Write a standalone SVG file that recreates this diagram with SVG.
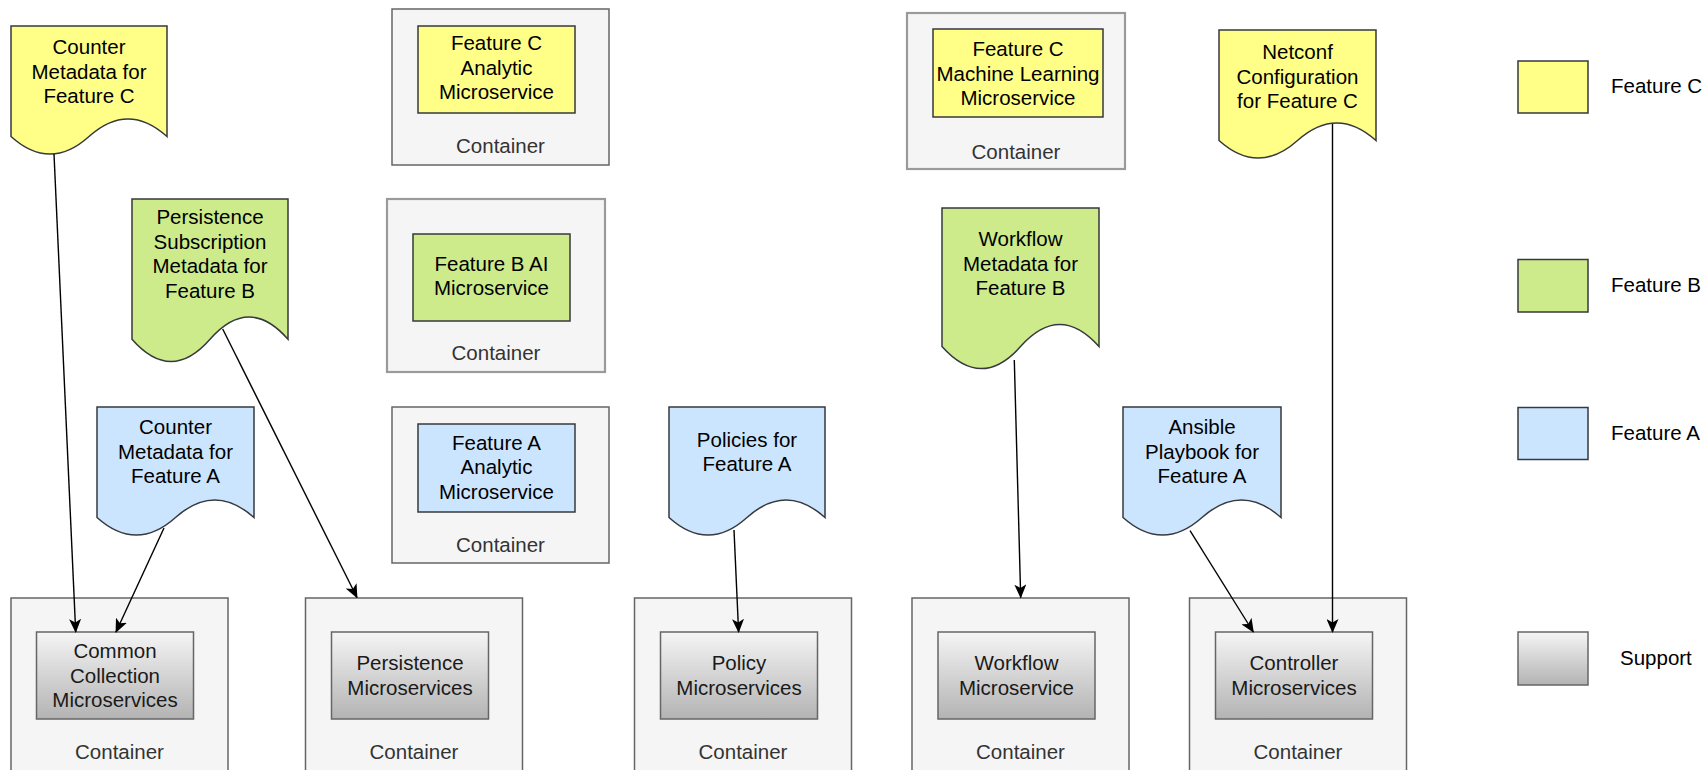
<svg xmlns="http://www.w3.org/2000/svg" width="1703" height="770" viewBox="0 0 1703 770">
  <defs>
    <linearGradient id="supportFill" x1="0" y1="0" x2="0" y2="1">
      <stop offset="0" stop-color="#f5f5f5"/>
      <stop offset="1" stop-color="#b3b3b3"/>
    </linearGradient>
    <marker id="arrow" viewBox="0 0 14 12" refX="13" refY="6" markerWidth="14" markerHeight="12" markerUnits="userSpaceOnUse" orient="auto">
      <path d="M0,0 L14,6 L0,12 L3.5,6 Z" fill="#000"/>
    </marker>
    <style>
      text { font-family: "Liberation Sans", Arial, Helvetica, sans-serif; font-size: 20.5px; text-anchor: middle; fill: #000; }
      .container { fill: #f5f5f5; stroke: #666666; stroke-width: 1.5; }
      .container.soft { stroke: #9a9a9a; stroke-width: 2.2; }
      .clabel { fill: #333333; }
      .featC { fill: #ffff88; stroke: #36393d; stroke-width: 1.5; }
      .featB { fill: #cdeb8b; stroke: #36393d; stroke-width: 1.5; }
      .featA { fill: #cce5ff; stroke: #36393d; stroke-width: 1.5; }
      .support { fill: url(#supportFill); stroke: #666666; stroke-width: 1.5; }
      .stext { fill: #1a1a1a; }
      .legend { text-anchor: start; }
      .edge { fill: none; stroke: #000; stroke-width: 1.4; marker-end: url(#arrow); }
    </style>
  </defs>

  <rect width="1703" height="770" fill="#ffffff"/>

  <!-- Metadata documents -->
  <g id="doc-counter-c">
    <path class="featC" d="M11,26 L167,26 L167,136.5 Q128,101.4 89,136.5 Q50,171.6 11,136.5 Z"/>
    <text x="89" y="54">Counter</text>
    <text x="89" y="78.5">Metadata for</text>
    <text x="89" y="103">Feature C</text>
  </g>

  <g id="doc-persistence-b">
    <path class="featB" d="M132,199 L288,199 L288,339.3 Q249,294.7 210,339.3 Q171,383.8 132,339.3 Z"/>
    <text x="210" y="224">Persistence</text>
    <text x="210" y="248.6">Subscription</text>
    <text x="210" y="273.2">Metadata for</text>
    <text x="210" y="297.8">Feature B</text>
  </g>

  <g id="doc-netconf-c">
    <path class="featC" d="M1219,30 L1376,30 L1376,140.5 Q1336.75,105.4 1297.5,140.5 Q1258.25,175.6 1219,140.5 Z"/>
    <text x="1297.5" y="59">Netconf</text>
    <text x="1297.5" y="83.5">Configuration</text>
    <text x="1297.5" y="108">for Feature C</text>
  </g>

  <g id="doc-workflow-b">
    <path class="featB" d="M942,208 L1099,208 L1099,346.6 Q1059.75,302.5 1020.5,346.6 Q981.25,390.6 942,346.6 Z"/>
    <text x="1020.5" y="246">Workflow</text>
    <text x="1020.5" y="270.6">Metadata for</text>
    <text x="1020.5" y="295">Feature B</text>
  </g>

  <g id="doc-counter-a">
    <path class="featA" d="M97,407 L254,407 L254,517.5 Q214.75,482.4 175.5,517.5 Q136.25,552.6 97,517.5 Z"/>
    <text x="175.5" y="434">Counter</text>
    <text x="175.5" y="458.6">Metadata for</text>
    <text x="175.5" y="483">Feature A</text>
  </g>

  <g id="doc-policies-a">
    <path class="featA" d="M669,407 L825,407 L825,517.5 Q786,482.4 747,517.5 Q708,552.6 669,517.5 Z"/>
    <text x="747" y="446.5">Policies for</text>
    <text x="747" y="471">Feature A</text>
  </g>

  <g id="doc-ansible-a">
    <path class="featA" d="M1123,407 L1281,407 L1281,517.5 Q1241.5,482.4 1202,517.5 Q1162.5,552.6 1123,517.5 Z"/>
    <text x="1202" y="434">Ansible</text>
    <text x="1202" y="458.6">Playbook for</text>
    <text x="1202" y="483">Feature A</text>
  </g>

  <!-- Feature containers -->
  <g id="container-c-analytic">
    <rect class="container" x="392" y="9" width="217" height="156"/>
    <rect class="featC" x="418" y="26" width="157" height="87"/>
    <text x="496.5" y="50">Feature C</text>
    <text x="496.5" y="74.5">Analytic</text>
    <text x="496.5" y="99">Microservice</text>
    <text class="clabel" x="500.5" y="153">Container</text>
  </g>

  <g id="container-b-ai">
    <rect class="container soft" x="387" y="199" width="218" height="173"/>
    <rect class="featB" x="413" y="234" width="157" height="87"/>
    <text x="491.5" y="271">Feature B AI</text>
    <text x="491.5" y="295">Microservice</text>
    <text class="clabel" x="496" y="360">Container</text>
  </g>

  <g id="container-a-analytic">
    <rect class="container" x="392" y="407" width="217" height="156"/>
    <rect class="featA" x="418" y="424" width="157" height="88"/>
    <text x="496.5" y="449.5">Feature A</text>
    <text x="496.5" y="474">Analytic</text>
    <text x="496.5" y="498.5">Microservice</text>
    <text class="clabel" x="500.5" y="551.5">Container</text>
  </g>

  <g id="container-c-ml">
    <rect class="container soft" x="907" y="13" width="218" height="156"/>
    <rect class="featC" x="933" y="29" width="170" height="88"/>
    <text x="1018" y="56">Feature C</text>
    <text x="1018" y="80.5">Machine Learning</text>
    <text x="1018" y="105">Microservice</text>
    <text class="clabel" x="1016" y="159">Container</text>
  </g>

  <!-- Support containers -->
  <g id="container-common-collection">
    <rect class="container" x="11" y="598" width="217" height="180"/>
    <rect class="support" x="36.5" y="632" width="157" height="87"/>
    <text class="stext" x="115" y="658">Common</text>
    <text class="stext" x="115" y="682.5">Collection</text>
    <text class="stext" x="115" y="707">Microservices</text>
    <text class="clabel" x="119.5" y="759">Container</text>
  </g>

  <g id="container-persistence">
    <rect class="container" x="305.5" y="598" width="217" height="180"/>
    <rect class="support" x="331.5" y="632" width="157" height="87"/>
    <text class="stext" x="410" y="670">Persistence</text>
    <text class="stext" x="410" y="694.5">Microservices</text>
    <text class="clabel" x="414" y="759">Container</text>
  </g>

  <g id="container-policy">
    <rect class="container" x="634.5" y="598" width="217" height="180"/>
    <rect class="support" x="660.5" y="632" width="157" height="87"/>
    <text class="stext" x="739" y="670">Policy</text>
    <text class="stext" x="739" y="694.5">Microservices</text>
    <text class="clabel" x="743" y="759">Container</text>
  </g>

  <g id="container-workflow">
    <rect class="container" x="912" y="598" width="217" height="180"/>
    <rect class="support" x="938" y="632" width="157" height="87"/>
    <text class="stext" x="1016.5" y="670">Workflow</text>
    <text class="stext" x="1016.5" y="694.5">Microservice</text>
    <text class="clabel" x="1020.5" y="759">Container</text>
  </g>

  <g id="container-controller">
    <rect class="container" x="1189.5" y="598" width="217" height="180"/>
    <rect class="support" x="1215.5" y="632" width="157" height="87"/>
    <text class="stext" x="1294" y="670">Controller</text>
    <text class="stext" x="1294" y="694.5">Microservices</text>
    <text class="clabel" x="1298" y="759">Container</text>
  </g>

  <!-- Legend -->
  <g id="legend-feature-c">
    <rect class="featC" x="1518" y="61" width="70" height="52"/>
    <text class="legend" x="1611" y="93">Feature C</text>
  </g>
  <g id="legend-feature-b">
    <rect class="featB" x="1518" y="259.5" width="70" height="52.5"/>
    <text class="legend" x="1611" y="292">Feature B</text>
  </g>
  <g id="legend-feature-a">
    <rect class="featA" x="1518" y="407.5" width="70" height="52"/>
    <text class="legend" x="1611" y="440">Feature A</text>
  </g>
  <g id="legend-support">
    <rect class="support" x="1518" y="632" width="70" height="53"/>
    <text class="legend" x="1620" y="664.5">Support</text>
  </g>

  <!-- Connectors -->
  <g id="connectors">
    <line class="edge" x1="54" y1="154" x2="75.7" y2="632"/>
    <line class="edge" x1="164" y1="528" x2="116" y2="632"/>
    <line class="edge" x1="222.7" y1="329" x2="357" y2="597.5"/>
    <line class="edge" x1="734" y1="530" x2="738.6" y2="632"/>
    <line class="edge" x1="1014.3" y1="360" x2="1020.7" y2="597.5"/>
    <line class="edge" x1="1190" y1="530.7" x2="1253.3" y2="632"/>
    <line class="edge" x1="1332.5" y1="124" x2="1332.5" y2="632"/>
  </g>
</svg>
